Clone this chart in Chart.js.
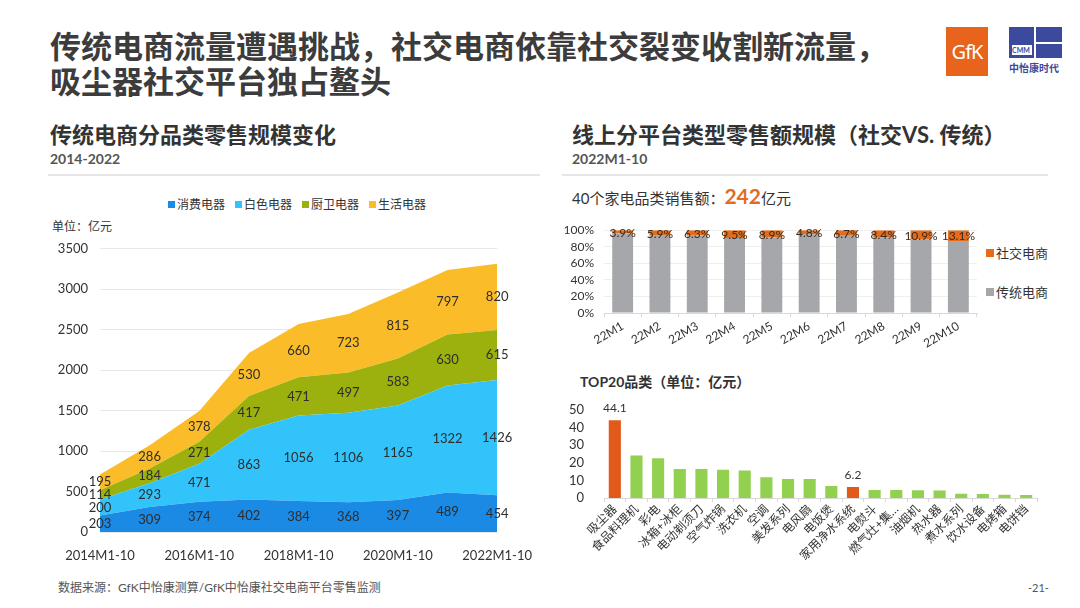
<!DOCTYPE html>
<html>
<head>
<meta charset="utf-8">
<script src="https://cdn.jsdelivr.net/npm/chart.js@4.4.1/dist/chart.umd.min.js"></script>
<style>
body{margin:0;width:1080px;height:608px;position:relative;background:#fff;overflow:hidden;
  font-family:Lato,'Noto Sans CJK SC',sans-serif;color:#333}
.abs{position:absolute;white-space:nowrap}
canvas{position:absolute}
.title{left:50px;top:29px;font-size:31px;line-height:35px;font-weight:700;color:#3c3c3c}
.h2{font-size:22px;font-weight:700;color:#333;line-height:26px}
.sub{font-size:14px;font-weight:700;color:#555}
.rule{position:absolute;height:2px;background:#e6e6e6}
.lg{font-size:12px;color:#333}
.lg i{display:inline-block;width:7px;height:7px;margin-right:2px;vertical-align:1px}
</style>
</head>
<body>

<div class="abs title">传统电商流量遭遇挑战，社交电商依靠社交裂变收割新流量，<br>吸尘器社交平台独占鳌头</div>

<!-- logos -->
<div class="abs" style="left:946px;top:27px;width:42px;height:49px;background:#e8641c;color:#fff;font-size:20px;line-height:49px;text-align:center;font-family:'Noto Sans';letter-spacing:-1px">GfK</div>
<div class="abs" style="left:1009px;top:27px;width:53px;height:31px;background:#3b4a9c"></div>
<div class="abs" style="left:1034px;top:27px;width:2px;height:31px;background:#fff"></div>
<div class="abs" style="left:1036px;top:42px;width:26px;height:2px;background:#fff"></div>
<div class="abs" style="left:1012px;top:45px;width:20px;height:10px;background:#fff;font-size:7px;line-height:10px;color:#3b4a9c;font-weight:700">CMM</div>
<div class="abs" style="left:1009px;top:60px;font-size:10px;color:#3b4a9c;font-weight:700">中怡康时代</div>

<!-- section headers -->
<div class="abs h2" style="left:50px;top:122px">传统电商分品类零售规模变化</div>
<div class="abs sub" style="left:50px;top:150px">2014-2022</div>
<div class="rule" style="left:48px;top:174px;width:492px"></div>

<div class="abs h2" style="left:572px;top:122px">线上分平台类型零售额规模（社交VS. 传统）</div>
<div class="abs sub" style="left:572px;top:150px">2022M1-10</div>
<div class="rule" style="left:562px;top:174px;width:486px"></div>

<!-- left chart legend & unit -->
<div class="abs lg" style="left:168px;top:195px"><i style="background:#1a8ae5"></i>消费电器</div>
<div class="abs lg" style="left:235px;top:195px"><i style="background:#33c3fb"></i>白色电器</div>
<div class="abs lg" style="left:302px;top:195px"><i style="background:#9db10e"></i>厨卫电器</div>
<div class="abs lg" style="left:369px;top:195px"><i style="background:#fbbc2a"></i>生活电器</div>
<div class="abs" style="left:52px;top:217px;font-size:12px;color:#333">单位：亿元</div>

<!-- right top -->
<div class="abs" style="left:572px;top:183px;font-size:15px;color:#333">40个家电品类销售额：<span style="color:#e36c1f;font-size:21px;font-weight:700">242</span>亿元</div>
<div class="abs lg" style="left:986px;top:243px;font-size:13px"><i style="background:#e46c1a;width:8px;height:8px"></i>社交电商</div>
<div class="abs lg" style="left:986px;top:282px;font-size:13px"><i style="background:#a5a7aa;width:8px;height:8px"></i>传统电商</div>

<div class="abs" style="left:580px;top:371px;font-size:14px;font-weight:700;color:#333">TOP20品类（单位：亿元）</div>

<div class="abs" style="left:58px;top:578px;font-size:12px;color:#555">数据来源：GfK中怡康测算/GfK中怡康社交电商平台零售监测</div>
<div class="abs" style="left:1028px;top:581px;font-size:11px;color:#555">-21-</div>

<canvas id="areaChart" width="500" height="331" style="left:40px;top:229px"></canvas>
<canvas id="shareChart" width="440" height="137" style="left:556px;top:213px"></canvas>
<canvas id="topChart" width="500" height="180" style="left:556px;top:390px"></canvas>

<script>
// 传统电商分品类零售规模（亿元）
const years = ['2014M1-10', '2015M1-10', '2016M1-10', '2017M1-10', '2018M1-10',
               '2019M1-10', '2020M1-10', '2021M1-10', '2022M1-10'];
const consumer = [203, 309, 374, 402, 384, 368, 397, 489, 454];
const white    = [200, 293, 471, 863, 1056, 1106, 1165, 1322, 1426];
const kitchen  = [114, 184, 271, 417, 471, 497, 583, 630, 615];
const life     = [195, 286, 378, 530, 660, 723, 815, 797, 820];
const areaTicks = [0, 500, 1000, 1500, 2000, 2500, 3000, 3500];

// 社交 vs 传统 占比（%）
const months = ['22M1', '22M2', '22M3', '22M4', '22M5', '22M6', '22M7', '22M8', '22M9', '22M10'];
const socialShare = [3.9, 5.9, 6.3, 9.5, 8.9, 4.8, 6.7, 8.4, 10.9, 13.1];
const tradShare   = [96.1, 94.1, 93.7, 90.5, 91.1, 95.2, 93.3, 91.6, 89.1, 86.9];
const shareTicks = [0, 20, 40, 60, 80, 100];

// TOP20品类（亿元）
const top20Names = ['吸尘器', '食品料理机', '彩电', '冰箱+冰柜', '电动剃须刀', '空气炸锅', '洗衣机',
                    '空调', '美发系列', '电风扇', '电饭煲', '家用净水系统', '电熨斗', '燃气灶+集…',
                    '油烟机', '热水器', '煮水系列', '饮水设备', '电烤箱', '电饼铛'];
const top20Values = [44.1, 24.1, 22.6, 16.5, 16.5, 16.0, 15.6, 11.8, 10.8, 10.8,
                     6.8, 6.2, 4.6, 4.6, 4.4, 4.2, 2.4, 2.2, 1.8, 1.7];
const top20Highlight = ['吸尘器', '家用净水系统'];
const top20Ticks = [0, 10, 20, 30, 40, 50];

const FONT = "Lato, 'Noto Sans CJK SC', sans-serif";
Chart.defaults.font.family = FONT;
Chart.defaults.color = '#333';

// 面积图数据标签：画在每一层的中间
const areaLabels = {
    id: 'areaLabels',
    afterDatasetsDraw(chart) {
        const ctx = chart.ctx;
        const xs = chart.scales.x, ys = chart.scales.y;
        const base = years.map(() => 0);
        ctx.save();
        ctx.font = '13px ' + FONT;
        ctx.fillStyle = '#2d2d2d';
        ctx.textAlign = 'center';
        ctx.textBaseline = 'middle';
        chart.data.datasets.forEach(ds => {
            ds.data.forEach((v, i) => {
                const mid = base[i] + v / 2;
                ctx.fillText(v, xs.getPixelForValue(i), ys.getPixelForValue(mid));
                base[i] += v;
            });
        });
        ctx.restore();
    }
};

function areaSet(label, data, color, fill) {
    return { label: label, data: data, backgroundColor: color, borderWidth: 0,
             pointRadius: 0, fill: fill, tension: 0 };
}

new Chart(document.getElementById('areaChart'), {
    type: 'line',
    data: {
        labels: years,
        datasets: [
            areaSet('消费电器', consumer, '#1a8ae5', 'origin'),
            areaSet('白色电器', white, '#33c3fb', '-1'),
            areaSet('厨卫电器', kitchen, '#9db10e', '-1'),
            areaSet('生活电器', life, '#fbbc2a', '-1')
        ]
    },
    options: {
        responsive: false,
        animation: false,
        layout: { padding: { top: 8, right: 40, left: 0, bottom: 0 } },
        plugins: { legend: { display: false }, tooltip: { enabled: false } },
        scales: {
            x: {
                offset: false,
                grid: { display: false },
                border: { display: false },
                ticks: {
                    autoSkip: false, maxRotation: 0, padding: 8,
                    font: { size: 13 }, color: '#333',
                    callback: (v, i) => i % 2 === 0 ? years[i] : ''
                },
                afterFit(s) { s.height = 28; }
            },
            y: {
                stacked: true,
                min: 0, max: 3500,
                afterBuildTicks(s) { s.ticks = areaTicks.map(v => ({ value: v })); },
                grid: { color: '#e8e8e8', drawTicks: false },
                border: { display: false },
                ticks: { autoSkip: false, padding: 12, font: { size: 13 }, color: '#333',
                         callback: v => String(v) },
                afterFit(s) { s.width = 60; }
            }
        }
    },
    plugins: [areaLabels]
});

// 占比标签
const shareLabels = {
    id: 'shareLabels',
    afterDatasetsDraw(chart) {
        const ctx = chart.ctx;
        const meta = chart.getDatasetMeta(1);
        ctx.save();
        ctx.font = '12px ' + FONT;
        ctx.fillStyle = '#3a2a1c';
        ctx.textAlign = 'center';
        ctx.textBaseline = 'middle';
        meta.data.forEach((bar, i) => {
            ctx.fillText(socialShare[i].toFixed(1) + '%', bar.x, (bar.y + bar.base) / 2 + 1);
        });
        ctx.restore();
    }
};

new Chart(document.getElementById('shareChart'), {
    type: 'bar',
    data: {
        labels: months,
        datasets: [
            { label: '传统电商', data: tradShare, backgroundColor: '#a5a7aa' },
            { label: '社交电商', data: socialShare, backgroundColor: '#e46c1a' }
        ]
    },
    options: {
        responsive: false,
        animation: false,
        layout: { padding: { top: 14, right: 19, left: 0, bottom: 0 } },
        plugins: { legend: { display: false }, tooltip: { enabled: false } },
        datasets: { bar: { barPercentage: 0.56, categoryPercentage: 1 } },
        scales: {
            x: {
                stacked: true,
                grid: { display: true, drawOnChartArea: false, tickLength: 4, color: '#d9d9d9' },
                border: { color: '#d9d9d9' },
                ticks: { autoSkip: false, maxRotation: 30, minRotation: 30, padding: 2,
                         font: { size: 12 }, color: '#333' },
                afterFit(s) { s.height = 37; }
            },
            y: {
                stacked: true,
                min: 0, max: 100,
                afterBuildTicks(s) { s.ticks = shareTicks.map(v => ({ value: v })); },
                ticks: { autoSkip: false, padding: 10, font: { size: 12 }, color: '#333',
                         callback: v => v + '%' },
                grid: { color: '#efefef', drawTicks: false },
                border: { display: false },
                afterFit(s) { s.width = 48; }
            }
        }
    },
    plugins: [shareLabels]
});

// TOP20 数值标签（只标高亮的品类）
const topLabels = {
    id: 'topLabels',
    afterDatasetsDraw(chart) {
        const ctx = chart.ctx;
        const meta = chart.getDatasetMeta(0);
        ctx.save();
        ctx.font = '12px ' + FONT;
        ctx.fillStyle = '#333';
        ctx.textAlign = 'center';
        ctx.textBaseline = 'bottom';
        meta.data.forEach((bar, i) => {
            if (top20Highlight.includes(top20Names[i])) {
                ctx.fillText(top20Values[i].toFixed(1), bar.x, bar.y - 6);
            }
        });
        ctx.restore();
    }
};

new Chart(document.getElementById('topChart'), {
    type: 'bar',
    data: {
        labels: top20Names,
        datasets: [{
            label: 'TOP20',
            data: top20Values,
            backgroundColor: top20Names.map(n => top20Highlight.includes(n) ? '#e25a1a' : '#92d050'),
            barPercentage: 0.56,
            categoryPercentage: 1
        }]
    },
    options: {
        responsive: false,
        animation: false,
        layout: { padding: { top: 13, right: 19, left: 0, bottom: 0 } },
        plugins: { legend: { display: false }, tooltip: { enabled: false } },
        scales: {
            x: {
                grid: { display: true, drawOnChartArea: false, tickLength: 4, color: '#d9d9d9' },
                border: { color: '#d9d9d9' },
                ticks: { autoSkip: false, maxRotation: 45, minRotation: 45, padding: 0,
                         font: { size: 12 }, color: '#333' },
                afterFit(s) { s.height = 72; }
            },
            y: {
                min: 0, max: 50,
                afterBuildTicks(s) { s.ticks = top20Ticks.map(v => ({ value: v })); },
                ticks: { autoSkip: false, padding: 12, font: { size: 13 }, color: '#333' },
                grid: { display: false },
                border: { display: false },
                afterFit(s) { s.width = 48; }
            }
        }
    },
    plugins: [topLabels]
});
</script>
</body>
</html>
